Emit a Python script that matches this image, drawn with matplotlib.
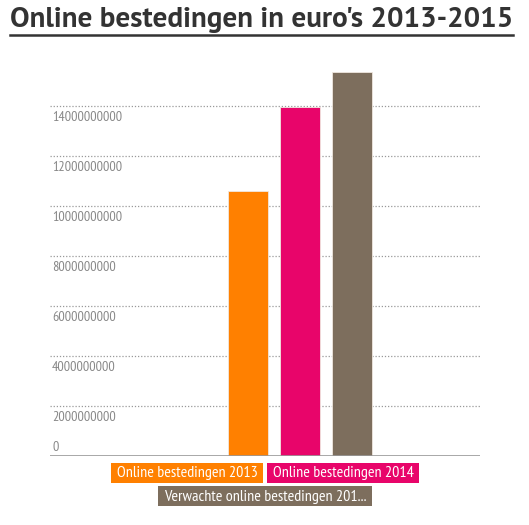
import matplotlib
matplotlib.use("Agg")
import matplotlib.pyplot as plt
import matplotlib.transforms as mtransforms
from matplotlib.patches import Rectangle

series = ["Online bestedingen 2013", "Online bestedingen 2014",
          "Verwachte online bestedingen 201..."]
values = [10600000000, 13950000000, 15350000000]
colors = ["#FF8000", "#E8056A", "#7D6E5D"]
yticks = [0, 2000000000, 4000000000, 6000000000, 8000000000,
          10000000000, 12000000000, 14000000000]

fig = plt.figure(figsize=(5.29, 5.25), dpi=100)
W, H = 529, 525
ax = fig.add_axes([50 / W, 1 - 456 / H, 430 / W, 400 / H])

x = [0, 1, 2]
ax.bar(x, values, width=40 / 52, color=colors, edgecolor="#f0e8e0", linewidth=0.6, zorder=3)
ax.set_xlim(-3.8, 4.46)
ax.set_ylim(0, 16000000000)

for v in yticks[1:]:
    ax.axhline(v, color="#999999", linestyle=(0, (1, 1.5)), linewidth=0.9, zorder=1)
ax.axhline(0, color="#999999", linewidth=1.2, zorder=4)

narrow = ["PT Sans Narrow", "Archivo Narrow", "DejaVu Sans"]
base = mtransforms.blended_transform_factory(ax.transAxes, ax.transData)
for v in yticks:
    dy = 1.5 if v == 0 else -3.5
    tr = mtransforms.offset_copy(base, fig=fig, x=0, y=dy, units="points")
    ax.text(0.005, v, str(v), transform=tr, ha="left",
            va="bottom" if v == 0 else "top",
            fontsize=10.2, color="#888888", family=narrow)

for s in ax.spines.values():
    s.set_visible(False)
ax.set_xticks([])
ax.set_yticks([])

# title with underline
fig.text(10 / W, 1 - 27 / H, "Online bestedingen in euro's 2013-2015", fontsize=21,
         fontweight="bold", color="#333333", family=["PT Sans", "Open Sans", "DejaVu Sans"],
         ha="left", va="baseline")
fig.add_artist(plt.Line2D([10 / W, 513 / W], [1 - 35 / H, 1 - 35 / H], color="#333333",
                          linewidth=1.8))

# legend boxes
boxes = [(111, 463, 152), (267, 463, 152), (158, 486, 214)]
for (bx, by, bw), label, c in zip(boxes, series, colors):
    fig.add_artist(Rectangle((bx / W, 1 - (by + 20) / H), bw / W, 20 / H,
                             facecolor=c, edgecolor="none", transform=fig.transFigure))
    fig.text((bx + bw / 2) / W, 1 - (by + 10.5) / H, label, color="white", fontsize=11.5,
             ha="center", va="center", family=narrow)

fig.savefig("out.png", dpi=100)
